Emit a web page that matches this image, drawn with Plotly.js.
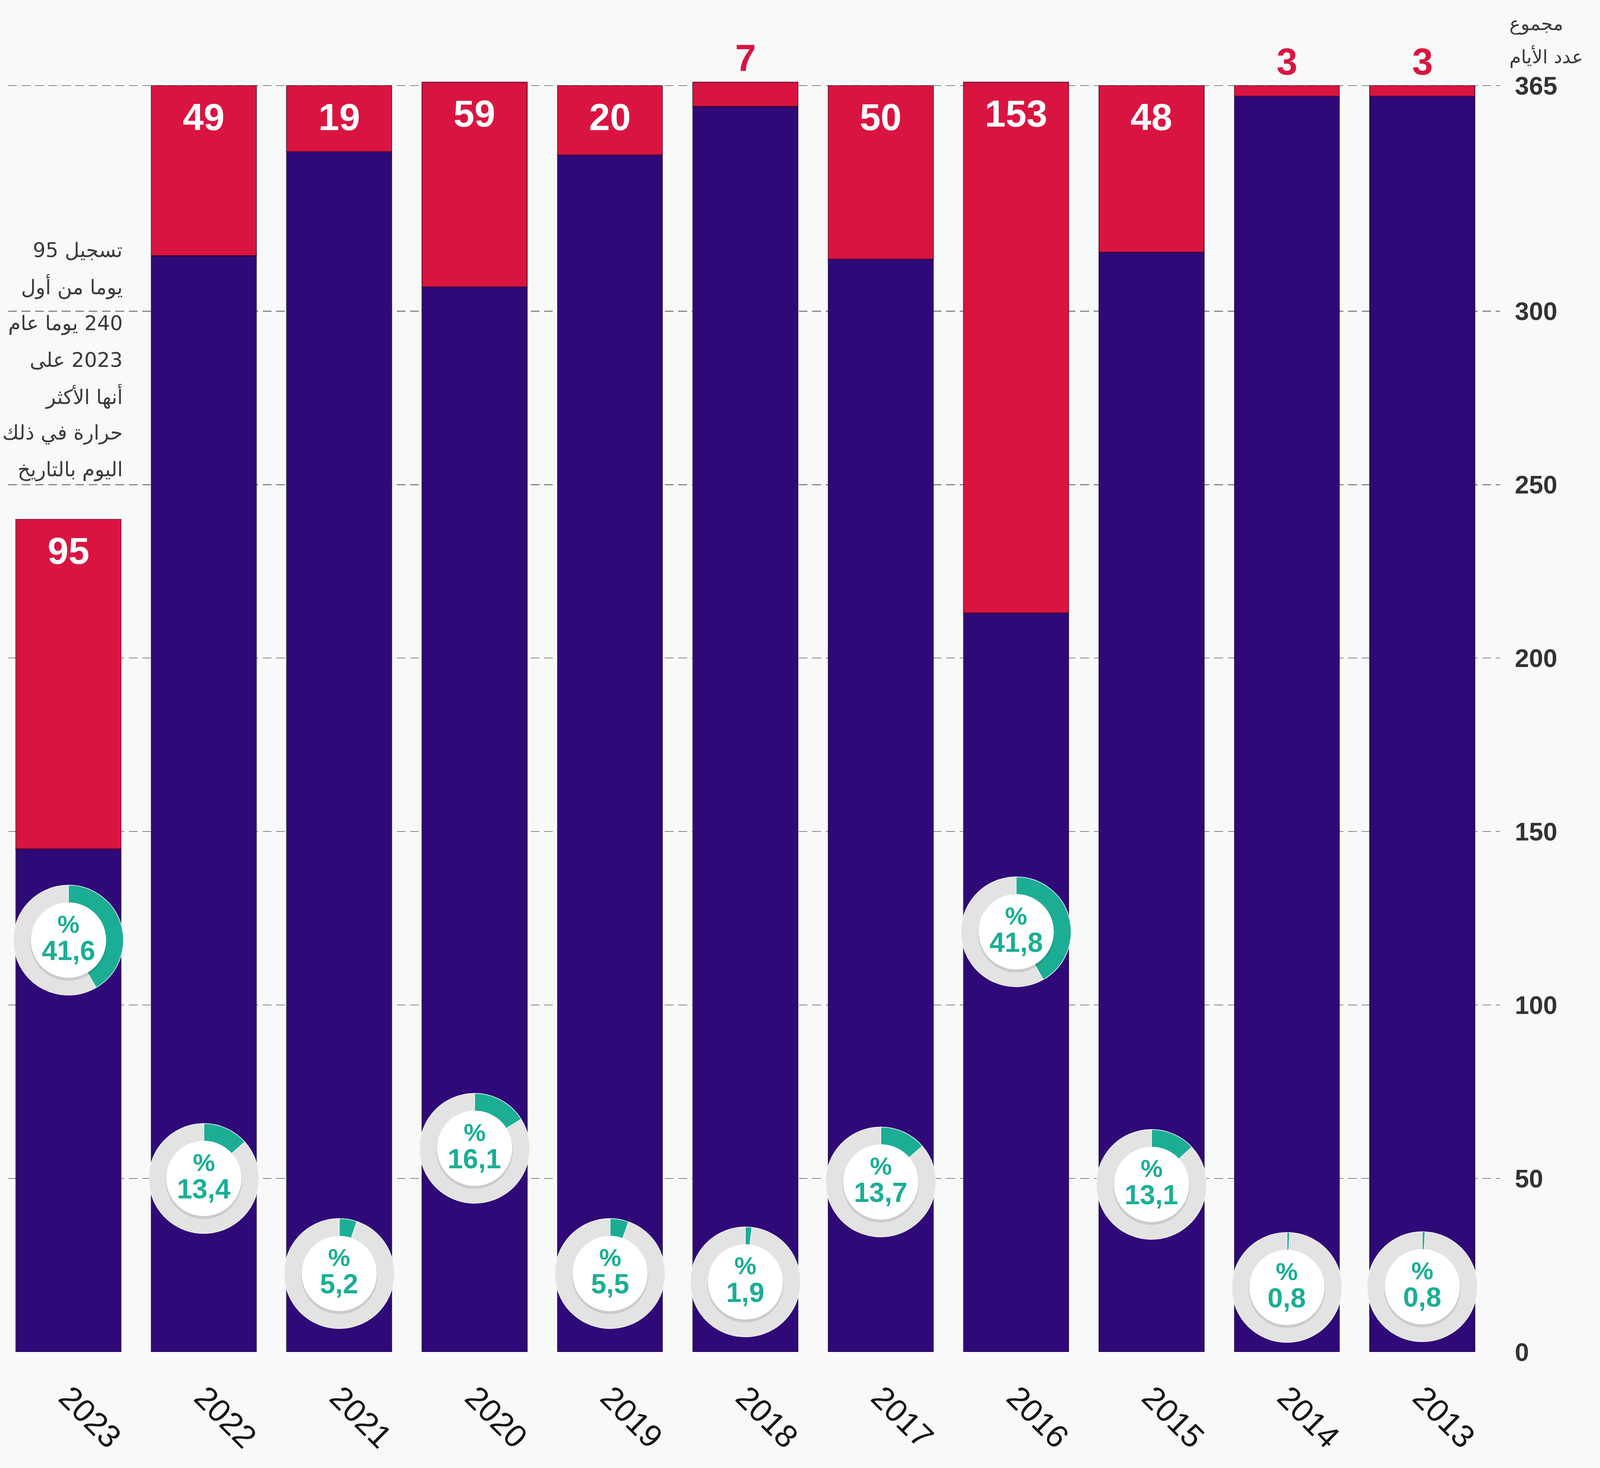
<!DOCTYPE html>
<html>
<head>
<meta charset="utf-8">
<script src="https://cdn.plot.ly/plotly-3.0.1.min.js"></script>
<style>
html,body{margin:0;padding:0;background:#F8FAFA;overflow:hidden;}
#chart{width:100vw;height:100vh;}
</style>
</head>
<body>
<div id="chart"></div>
<script>
// ---------------- DATA ----------------
const years = ['2023','2022','2021','2020','2019','2018','2017','2016','2015','2014','2013'];
const hotDays = [95, 49, 19, 59, 20, 7, 50, 153, 48, 3, 3];
const totalDays = [240, 365, 365, 366, 365, 366, 365, 366, 365, 365, 365];
const hotShare = [41.6, 13.4, 5.2, 16.1, 5.5, 1.9, 13.7, 41.8, 13.1, 0.8, 0.8];
const hotShareText = ['41,6','13,4','5,2','16,1','5,5','1,9','13,7','41,8','13,1','0,8','0,8'];
const yTickVals = [0, 50, 100, 150, 200, 250, 300, 365];
const yTickText = ['0','50','100','150','200','250','300','365'];
const axisTitleLines = ['مجموع', 'عدد الأيام'];
const noteLines = ['تسجيل 95','يوما من أول','240 يوما عام','2023 على','أنها الأكثر','حرارة في ذلك','اليوم بالتاريخ'];

// ---------------- LAYOUT / STYLE ----------------
const REF_W = 4776, REF_H = 3757;
const W = window.innerWidth || REF_W, H = window.innerHeight || REF_H;
const sx = W / REF_W, sy = H / REF_H;
const sf = Math.min(sx, sy);           // scale for fonts / round marks
const X = v => v * sx, Y = v => v * sy, F = v => v * sf;

const M = {l: X(24), r: W - X(4478), t: Y(86), b: H - Y(3460)};
const PW = W - M.l - M.r, PH = H - M.t - M.b;
const X_RANGE = [-0.445, 10.574];
const Y_RANGE = [0, 380];
const donutLevel = [118.7, 50.0, 22.6, 58.7, 22.6, 20.2, 49.0, 121.1, 48.3, 18.6, 18.8]; // vertical placement of the rings
const R_OUT = F(164), R_IN = F(112);

const C_PURPLE = '#2F0977';
const C_RED = '#DA1440';
const C_TEAL = '#1BAE95';
const C_RING = '#E3E3E3';
const C_BG = '#F8FAFA';
const AR_FONT = 'DejaVu Sans, Noto Sans, sans-serif';
const NUM_FONT = 'Liberation Sans, Arial, sans-serif';

// right-to-left embedding so Arabic lines with numbers read correctly
const rtl = t => '\u202B' + t + '\u202C';

const px2paperX = px => (X(px) - M.l) / PW;
const px2paperY = py => (H - M.b - Y(py)) / PH;

const xIdx = years.map((_, i) => i);
const otherDays = totalDays.map((t, i) => t - hotDays[i]);

const traces = [
  {
    type: 'bar', x: xIdx, y: otherDays, width: 0.777,
    marker: {color: C_PURPLE, line: {color: 'rgba(20,0,40,0.55)', width: F(3)}},
    hoverinfo: 'skip', showlegend: false
  },
  {
    type: 'bar', x: xIdx, y: hotDays, width: 0.777,
    marker: {color: C_RED, line: {color: 'rgba(60,0,30,0.6)', width: F(3)}},
    hoverinfo: 'skip', showlegend: false
  }
];

const shapes = [];
const annotations = [];

years.forEach((yr, i) => {
  const cx = (i - X_RANGE[0]) / (X_RANGE[1] - X_RANGE[0]);
  const cy = (donutLevel[i] - Y_RANGE[0]) / (Y_RANGE[1] - Y_RANGE[0]);
  const rx = R_OUT / PW, ry = R_OUT / PH;
  traces.push({
    type: 'pie',
    values: [hotShare[i], 100 - hotShare[i]],
    marker: {colors: [C_TEAL, C_RING], line: {color: '#F2F2F6', width: F(2)}},
    hole: 0.68, sort: false, direction: 'clockwise', rotation: 0,
    textinfo: 'none', hoverinfo: 'skip', showlegend: false,
    domain: {x: [cx - rx, cx + rx], y: [cy - ry, cy + ry]}
  });
  // soft shadow + white centre
  shapes.push({
    type: 'circle', xref: 'x', yref: 'y', xsizemode: 'pixel', ysizemode: 'pixel',
    xanchor: i, yanchor: donutLevel[i],
    x0: -R_IN - F(2), x1: R_IN + F(2), y0: -R_IN - F(9), y1: R_IN - F(3),
    fillcolor: 'rgba(0,0,0,0.10)', line: {width: 0}, layer: 'above'
  });
  shapes.push({
    type: 'circle', xref: 'x', yref: 'y', xsizemode: 'pixel', ysizemode: 'pixel',
    xanchor: i, yanchor: donutLevel[i],
    x0: -R_IN, x1: R_IN, y0: -R_IN, y1: R_IN,
    fillcolor: '#FFFFFF', line: {width: 0}, layer: 'above'
  });
  annotations.push({
    xref: 'x', yref: 'y', x: i, y: donutLevel[i], text: '<b>%</b>', showarrow: false,
    yshift: F(48), yanchor: 'middle', xanchor: 'center',
    font: {family: NUM_FONT, size: F(74), color: C_TEAL}
  });
  annotations.push({
    xref: 'x', yref: 'y', x: i, y: donutLevel[i], text: '<b>' + hotShareText[i] + '</b>', showarrow: false,
    yshift: F(-31), yanchor: 'middle', xanchor: 'center',
    font: {family: NUM_FONT, size: F(82), color: C_TEAL}
  });
  // hot-day counts
  const inside = hotDays[i] >= 15;
  annotations.push({
    xref: 'x', yref: 'y', x: i, y: totalDays[i], text: '<b>' + hotDays[i] + '</b>', showarrow: false,
    yshift: inside ? Y(-80) : Y(62), yanchor: 'middle', xanchor: 'center',
    font: {family: NUM_FONT, size: F(112), color: inside ? '#FFFFFF' : C_RED}
  });
});

// axis title (top right)
axisTitleLines.forEach((line, k) => {
  annotations.push({
    xref: 'paper', yref: 'paper', x: px2paperX(4504), y: px2paperY(60 + k * 84),
    xanchor: 'left', yanchor: 'middle', align: 'left', showarrow: false,
    text: rtl(line),
    font: {family: AR_FONT, size: F(56), color: '#3A3A3A'}
  });
});

// side note (left)
noteLines.forEach((line, k) => {
  annotations.push({
    xref: 'paper', yref: 'paper', x: px2paperX(368), y: px2paperY(640 + k * 93.5),
    xanchor: 'right', yanchor: 'middle', align: 'right', showarrow: false,
    text: rtl(line),
    font: {family: AR_FONT, size: F(60), color: '#3A3A3A'}
  });
});

const layout = {
  width: W, height: H,
  margin: M,
  paper_bgcolor: C_BG, plot_bgcolor: C_BG,
  barmode: 'stack',
  showlegend: false,
  xaxis: {
    type: 'linear', range: X_RANGE, tickmode: 'array', tickvals: xIdx, ticktext: years,
    showgrid: false, zeroline: false, showline: false,
    ticks: 'outside', ticklen: Y(34), tickcolor: 'rgba(0,0,0,0)',
    tickangle: 45,
    tickfont: {family: NUM_FONT, size: F(96), color: '#151515'},
    fixedrange: true
  },
  yaxis: {
    side: 'right', range: Y_RANGE, tickmode: 'array', tickvals: yTickVals, ticktext: yTickText,
    showgrid: true, gridcolor: '#858585', gridwidth: F(3), griddash: F(26) + 'px,' + F(14) + 'px',
    zeroline: false, showline: false,
    ticks: 'outside', ticklen: X(28), tickcolor: 'rgba(0,0,0,0)',
    tickfont: {family: NUM_FONT, size: F(76), color: '#333333', weight: 'bold'},
    fixedrange: true
  },
  shapes: shapes,
  annotations: annotations
};

Plotly.newPlot('chart', traces, layout, {staticPlot: true, displayModeBar: false});
</script>
</body>
</html>
